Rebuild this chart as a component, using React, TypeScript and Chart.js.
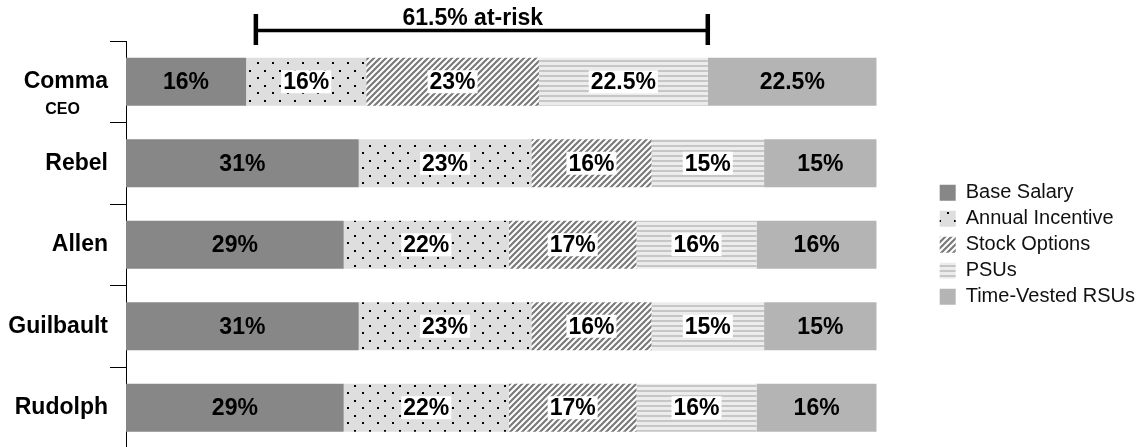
import React, { useEffect, useRef } from "react";
import { Chart, registerables } from "chart.js";

Chart.register(...registerables);

const FONT = "'Liberation Sans', Arial, Helvetica, sans-serif";

const categories = ["Comma", "Rebel", "Allen", "Guilbault", "Rudolph"];
const categorySubtitles = ["CEO", "", "", "", ""];
const seriesNames = ["Base Salary", "Annual Incentive", "Stock Options", "PSUs", "Time-Vested RSUs"];
const baseSalary = [16, 31, 29, 31, 29];
const annualIncentive = [16, 23, 22, 23, 22];
const stockOptions = [23, 16, 17, 16, 17];
const psus = [22.5, 15, 16, 15, 16];
const timeVestedRsus = [22.5, 15, 16, 15, 16];
const labelBoxed = [false, true, true, true, false];

const atRiskLabel = "61.5% at-risk";
const atRiskFrom = 17.3;
const atRiskTo = 77.5;
const atRiskTextAt = 46.2;

function makeTile(w: number, h: number, draw: (c: CanvasRenderingContext2D) => void): CanvasPattern {
  const cv = document.createElement("canvas");
  cv.width = w;
  cv.height = h;
  const c = cv.getContext("2d")!;
  draw(c);
  const ref = document.createElement("canvas").getContext("2d")!;
  return ref.createPattern(cv, "repeat")!;
}

function dotsPattern() {
  return makeTile(15, 15, (c) => {
    c.fillStyle = "#dedede";
    c.fillRect(0, 0, 15, 15);
    c.fillStyle = "#000";
    c.fillRect(2, 2, 2, 2);
    c.fillRect(9, 10, 2, 2);
  });
}

function diagPattern() {
  const s = 6;
  return makeTile(s, s, (c) => {
    c.fillStyle = "#ffffff";
    c.fillRect(0, 0, s, s);
    c.strokeStyle = "#7a7a7a";
    c.lineWidth = 2.2;
    c.beginPath();
    c.moveTo(-1, s + 1);
    c.lineTo(s + 1, -1);
    c.moveTo(-1, 1);
    c.lineTo(1, -1);
    c.moveTo(s - 1, s + 1);
    c.lineTo(s + 1, s - 1);
    c.stroke();
  });
}

function hStripePattern() {
  return makeTile(5, 5, (c) => {
    c.fillStyle = "#ececec";
    c.fillRect(0, 0, 5, 5);
    c.fillStyle = "#c6c6c6";
    c.fillRect(0, 0, 5, 2);
  });
}

const segLabelsPlugin = {
  id: "segLabels",
  afterDatasetsDraw(chart: any) {
    const ctx = chart.ctx as CanvasRenderingContext2D;
    ctx.save();
    ctx.font = `bold 23px ${FONT}`;
    ctx.textAlign = "center";
    ctx.textBaseline = "middle";
    chart.data.datasets.forEach((ds: any, di: number) => {
      const meta = chart.getDatasetMeta(di);
      meta.data.forEach((el: any, i: number) => {
        const v = ds.data[i];
        const text = `${v}%`;
        const { x, base, y } = el.getProps(["x", "base", "y"], true);
        const cx = (x + base) / 2;
        if (labelBoxed[di]) {
          const w = ctx.measureText(text).width;
          ctx.fillStyle = "#ffffff";
          ctx.fillRect(cx - w / 2 - 2, y - 11.5, w + 4, 23);
        }
        ctx.fillStyle = "#000000";
        ctx.fillText(text, cx, y + 1);
      });
    });
    ctx.restore();
  },
};

const annotationsPlugin = {
  id: "annotations",
  afterDraw(chart: any) {
    const ctx = chart.ctx as CanvasRenderingContext2D;
    const xs = chart.scales.x;
    const ys = chart.scales.y;
    ctx.save();
    ctx.font = `bold 16px ${FONT}`;
    ctx.fillStyle = "#000";
    ctx.textAlign = "center";
    ctx.textBaseline = "middle";
    categorySubtitles.forEach((s, i) => {
      if (!s) return;
      const y = ys.getPixelForValue(i);
      ctx.fillText(s, ys.right - 63.5, y + 28);
    });
    const x1 = xs.getPixelForValue(atRiskFrom);
    const x2 = xs.getPixelForValue(atRiskTo);
    const yLine = 30.5;
    ctx.strokeStyle = "#000";
    ctx.lineWidth = 3.5;
    ctx.beginPath();
    ctx.moveTo(x1, yLine);
    ctx.lineTo(x2, yLine);
    ctx.stroke();
    ctx.lineWidth = 4.5;
    ctx.beginPath();
    ctx.moveTo(x1, 14);
    ctx.lineTo(x1, 45);
    ctx.moveTo(x2, 14);
    ctx.lineTo(x2, 45);
    ctx.stroke();
    ctx.font = `bold 23px ${FONT}`;
    ctx.textBaseline = "alphabetic";
    ctx.fillText(atRiskLabel, xs.getPixelForValue(atRiskTextAt), 25);
    ctx.restore();
  },
};

export default function App() {
  const ref = useRef<HTMLCanvasElement | null>(null);

  useEffect(() => {
    if (!ref.current) return;
    const fills = ["#878787", dotsPattern(), diagPattern(), hStripePattern(), "#b4b4b4"];
    const series = [baseSalary, annualIncentive, stockOptions, psus, timeVestedRsus];
    const chart = new Chart(ref.current, {
      type: "bar",
      data: {
        labels: categories,
        datasets: series.map((d, i) => ({
          label: seriesNames[i],
          data: d,
          backgroundColor: fills[i] as any,
          borderWidth: 0,
          categoryPercentage: 0.59,
          barPercentage: 1,
        })),
      },
      options: {
        indexAxis: "y",
        responsive: false,
        animation: false,
        layout: { padding: { top: 41, bottom: 1.5, left: 0, right: 0 } },
        scales: {
          x: { stacked: true, min: 0, max: 100, display: false },
          y: {
            stacked: true,
            position: "left",
            grid: {
              display: true,
              offset: true,
              drawOnChartArea: false,
              drawTicks: true,
              tickLength: 16,
              color: "#000",
              lineWidth: 1,
            },
            border: { display: true, color: "#000", width: 1 },
            ticks: {
              color: "#000",
              padding: 2,
              font: { family: FONT, size: 23, weight: "bold" },
            },
            afterFit: (s: any) => {
              s.width = 126;
              s.paddingTop = 0;
              s.paddingBottom = 0;
            },
          },
          yGap: {
            type: "linear",
            position: "right",
            display: true,
            grid: { display: false },
            border: { display: false },
            ticks: { display: false },
            afterFit: (s: any) => {
              s.width = 57;
              s.paddingTop = 0;
              s.paddingBottom = 0;
            },
          },
        } as any,
        plugins: {
          legend: {
            display: true,
            position: "right",
            align: "center",
            maxWidth: 260,
            labels: {
              boxWidth: 16,
              boxHeight: 16,
              padding: 6,
              color: "#111",
              font: { family: FONT, size: 20 },
            },
          } as any,
          tooltip: { enabled: false },
          title: { display: false },
        },
      },
      plugins: [segLabelsPlugin, annotationsPlugin],
    });
    return () => chart.destroy();
  }, []);

  return (
    <div
      style={{
        position: "fixed",
        left: 0,
        top: 0,
        width: 1142,
        height: 447,
        overflow: "hidden",
        background: "#fff",
      }}
    >
      <canvas ref={ref} width={1145} height={450} style={{ display: "block" }} />
    </div>
  );
}
